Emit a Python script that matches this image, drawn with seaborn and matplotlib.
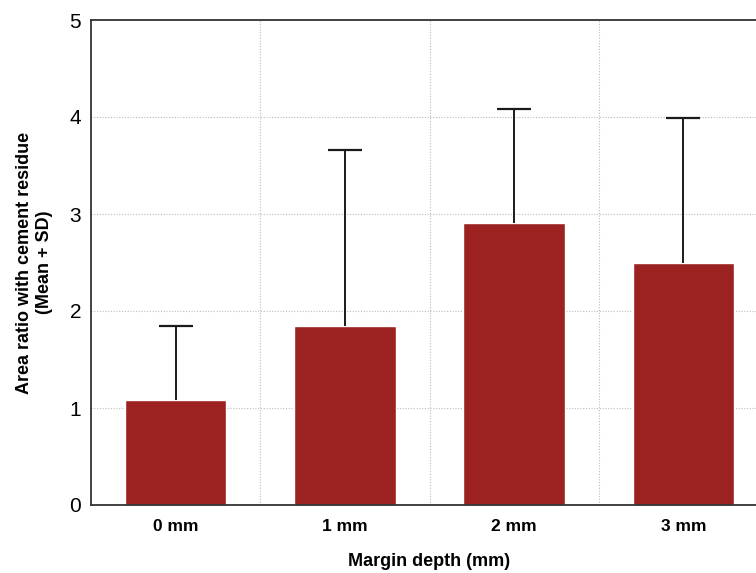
import matplotlib
matplotlib.use("Agg")
import matplotlib.pyplot as plt
import seaborn as sns
import pandas as pd
import numpy as np

categories = ["0 mm", "1 mm", "2 mm", "3 mm"]
means = [1.08, 1.85, 2.91, 2.49]
sds = [0.77, 1.81, 1.17, 1.50]

sns.set_style("white")
plt.rcParams['font.family'] = ['Liberation Sans', 'DejaVu Sans']
plt.rcParams['text.color'] = 'black'
plt.rcParams['axes.labelcolor'] = 'black'
plt.rcParams['xtick.color'] = 'black'
plt.rcParams['ytick.color'] = 'black'

df = pd.DataFrame({"depth": categories, "mean": means})

fig = plt.figure(figsize=(7.56, 5.73), dpi=100)
ax = fig.add_axes([91/756, 68/573, 677/756, 485/573])

sns.barplot(data=df, x="depth", y="mean", color="#9C2121", saturation=1,
            width=0.6, errorbar=None, ax=ax, zorder=2)

xs = np.arange(len(categories))
tops = np.array(means) + np.array(sds)
ax.vlines(xs, means, tops, color="#1a1a1a", linewidth=1.4, zorder=3)
ax.hlines(tops, xs - 0.1, xs + 0.1, color="#1a1a1a", linewidth=1.6, zorder=3)

ax.set_xlim(-0.5, 3.5)
ax.set_ylim(0, 5)
ax.set_yticks([0, 1, 2, 3, 4, 5])
ax.set_xticks(range(4))
ax.set_xticklabels(categories, fontsize=12.5, fontweight="bold")
ax.tick_params(axis="y", labelsize=15, direction="out", length=4, width=1, pad=3)
ax.tick_params(axis="x", direction="in", length=4, width=1, pad=10)

for y in [1, 2, 3, 4]:
    ax.axhline(y, color="#bbbbbb", linestyle=(0, (1, 1.5)), linewidth=0.8, zorder=0)
for x in [0.5, 1.5, 2.5]:
    ax.axvline(x, color="#bbbbbb", linestyle=(0, (1, 1.5)), linewidth=0.8, zorder=0)

for s in ["left", "bottom", "top"]:
    ax.spines[s].set_visible(True)
    ax.spines[s].set_color("#333333")
    ax.spines[s].set_linewidth(1.3)
ax.spines["right"].set_visible(False)

ax.set_xlabel("Margin depth (mm)", fontsize=13, fontweight="bold", labelpad=14)
ax.set_ylabel("Area ratio with cement residue\n(Mean + SD)", fontsize=13,
              fontweight="bold", labelpad=12)

fig.savefig("out.png", dpi=100)
